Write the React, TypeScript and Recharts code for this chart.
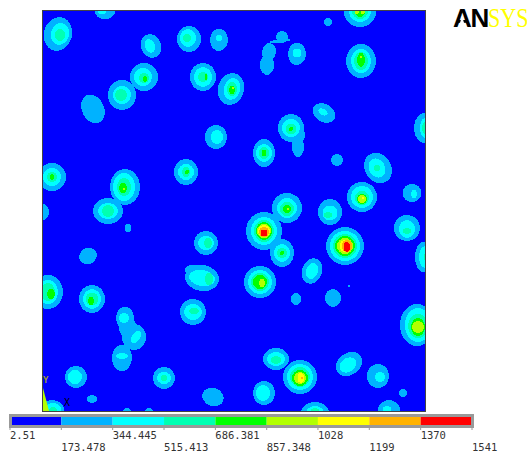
import React from 'react';
import { Bar, BarChart, Cell, ReferenceArea, Scatter, ScatterChart, XAxis, YAxis } from 'recharts';

// contour bands, lowest first. Each spot: [x, y, half width, half height, tilt] in plot units
type Spot = [number, number, number, number, number?];

const plotWidth = 382;
const plotHeight = 400;

const band1: Spot[] = [
  [15, 23, 14, 17, 15], [62, 1, 10, 7], [108, 35, 10, 12, -20], [146, 28, 12, 13], [176, 29, 9, 11],
  [101, 66, 14, 14], [79, 84, 14, 15], [160, 66, 13, 14], [188, 78, 13, 16, 15], [50, 98, 11, 15, -25],
  [173, 126, 11, 12], [143, 161, 12, 13], [9, 166, 14, 14], [82, 176, 15, 18], [65, 200, 15, 13], [0, 201, 6, 8],
  [317, 1, 16, 15], [285, 11, 4, 4], [254, 43, 9, 11], [226, 41, 7, 9, 8], [224, 54, 7, 10], [239, 26, 6, 6], [237, 30, 11, 1.5, -6],
  [318, 50, 15, 17], [281, 102, 12, 9, 30], [248, 117, 13, 14], [254, 124, 8, 10], [255, 136, 6, 10],
  [221, 142, 11, 14], [294, 149, 6, 6], [335, 157, 13, 16, -30], [382, 117, 11, 15], [369, 182, 9.5, 9],
  [319, 186, 15, 15], [244, 197, 15, 15], [287, 201, 12, 13], [221, 220, 18, 19], [239, 242, 12, 14],
  [302, 235, 19, 19], [269, 260, 10, 13, 20], [217, 271, 16, 16], [253, 288, 5, 6], [290, 287, 8, 9],
  [306, 275, 1, 1], [364, 217, 13, 13], [380, 246, 8, 15], [374, 314, 17, 21], [233, 348, 13, 11],
  [257, 366, 17, 17], [306, 353, 14, 11, -35], [335, 365, 11, 12], [221, 382, 11, 12], [360, 382, 4, 4],
  [272, 402, 14, 11], [346, 399, 11, 10], [85, 217, 3.5, 4], [45, 245, 9, 8, -30], [163, 232, 12, 12],
  [159, 267, 17, 13, 10], [149, 259, 7, 5], [150, 301, 13, 13], [5, 281, 15, 17], [49, 288, 13, 14],
  [82, 307, 9, 11], [91, 326, 12, 13], [85, 317, 9, 10], [79, 347, 10, 13], [33, 366, 11, 11],
  [121, 367, 11, 11], [49, 388, 5, 4], [170, 386, 11, 9, 20], [9, 399, 12, 10], [84, 401, 4, 4], [106, 401, 4, 4],
];
const band2: Spot[] = [
  [17, 23, 9, 11, 15], [59, 1, 4, 2], [107, 35, 5, 7, -20], [145, 27, 8, 9], [176, 27, 3, 3], [100, 66, 9, 9],
  [79, 84, 9, 9], [160, 66, 9, 10], [189, 78, 8, 11, 15], [174, 126, 6, 7], [143, 161, 8, 8], [9, 166, 9, 9],
  [81, 176, 11, 14], [65, 200, 10, 8], [317, 0, 11, 11], [254, 42, 4.5, 4.5], [318, 50, 10, 12], [280, 101, 5, 3, 30],
  [248, 117, 9, 9], [221, 142, 8, 9], [334, 157, 8, 10, -30], [382, 117, 5, 10], [371, 183, 3, 4],
  [319, 186, 11, 11], [244, 197, 10, 10], [287, 202, 7.5, 7.5], [221, 220, 13, 14], [239, 242, 8, 9],
  [302, 235, 15, 15], [269, 260, 6, 8, 20], [217, 271, 12, 12], [364, 218, 8, 9], [382, 246, 6, 11],
  [375, 314, 13, 17], [233, 348, 9, 7], [257, 366, 13, 13], [305, 354, 9, 7, -35], [337, 366, 5, 5],
  [220, 382, 7, 8], [272, 402, 9, 7], [344, 398, 4, 3], [163, 232, 8, 7], [159, 267, 13, 8, 10],
  [150, 301, 9, 8], [5, 281, 10, 12], [49, 288, 9, 10], [81, 307, 5, 5], [93, 326, 4, 7, 30], [79, 345, 6, 3],
  [32, 366, 7, 7], [121, 367, 7, 6], [10, 398, 8, 6],
];
const band3: Spot[] = [
  [17, 24, 5, 6], [144, 27, 4, 4], [101, 67, 5, 5], [78, 84, 6, 6], [160, 66, 5, 5], [189, 78, 5, 7], [143, 161, 4, 5],
  [9, 166, 5, 5], [81, 176, 7, 9], [65, 200, 6, 6], [317, 0, 8, 8], [318, 50, 7, 9], [248, 118, 5.5, 5.5],
  [221, 142, 5, 6], [334, 157, 3, 3], [382, 117, 3, 6], [319, 187, 7, 7], [244, 198, 7, 7], [285, 204, 4, 3],
  [221, 220, 10, 11], [239, 242, 5, 5], [302, 235, 12, 12], [217, 271, 9, 9], [364, 220, 4, 3], [384, 246, 3, 6],
  [375, 315, 10, 12], [233, 349, 5, 4], [257, 366, 10, 10], [272, 402, 5, 5], [165, 232, 4, 5], [166, 268, 4, 6],
  [151, 300, 5, 3], [5, 281, 7, 9], [49, 288, 6.5, 6.5], [121, 367, 3, 3], [10, 400, 4, 4],
];
const band4: Spot[] = [
  [102, 68, 2, 3], [163, 66, 1.5, 3], [189, 79, 3, 4], [144, 161, 2, 2], [9, 166, 2, 3], [80, 177, 4, 5], [317, 0, 5, 6],
  [318, 49, 4, 7], [248, 118, 2, 2], [221, 142, 2.5, 3], [319, 188, 5, 5], [244, 198, 4, 4], [221, 220, 8, 9],
  [239, 242, 2, 2], [302, 235, 10, 10], [217, 271, 7, 7], [375, 316, 7, 9], [257, 367, 8, 8], [272, 404, 3, 3],
  [8, 283, 4, 5], [48, 290, 3, 4], [10, 403, 3, 2],
];
const band5: Spot[] = [
  [190, 77, 1.5, 1.5], [81, 178, 1, 1], [314, 1, 2, 2], [320, 1, 2, 2], [318, 46, 1.5, 1.5], [319, 188, 4, 4],
  [245, 198, 1, 1], [221, 220, 7, 7], [302, 235, 8, 8], [219, 272, 3, 4], [375, 316, 6, 6], [257, 367, 6, 6], [272, 406, 1, 1],
];
const band6: Spot[] = [[320, 187, 1, 1], [221, 220, 6, 6], [303, 235, 6.5, 6.5], [258, 367, 3.5, 5]];
const band7: Spot[] = [[221, 221, 5, 5], [304, 235, 5.5, 6], [259, 367, 1, 1]];
const band8: Spot[] = [[221, 222, 3.5, 3.5], [304, 236, 3.5, 5]];

const bands = [band1, band2, band3, band4, band5, band6, band7, band8];
const bandColors = ['#00b2ff', '#00ffff', '#00ffb2', '#00ff00', '#b2ff00', '#ffff00', '#ffb200', '#ff0000'];
const baseColor = '#0000ff';

// legend
const contourLevels = [2.51, 173.478, 344.445, 515.413, 686.381, 857.348, 1028, 1199, 1370, 1541];
const contourLabels = ['2.51', '173.478', '344.445', '515.413', '686.381', '857.348', '1028', '1199', '1370', '1541'];
const legendColors = [baseColor, ...bandColors];
const legendRow: Record<string, number | string> = { name: 'range' };
legendColors.forEach((_, i) => {
  legendRow[`k${i}`] = contourLevels[i + 1] - (i === 0 ? 0 : contourLevels[i]);
});

const SpotShape = (props: any) => {
  const { cx, cy, payload, fill } = props;
  return (
    <ellipse
      cx={cx}
      cy={cy}
      rx={payload.rx}
      ry={payload.ry}
      fill={fill}
      shapeRendering="crispEdges"
      transform={payload.tilt ? `rotate(${payload.tilt} ${cx} ${cy})` : undefined}
    />
  );
};

const LevelTick = (props: any) => {
  const { x, y, index } = props;
  return (
    <text x={x} y={index % 2 === 0 ? y + 7 : y + 19} fontFamily="'DejaVu Sans Mono'" fontSize={10.5} fill="#333">
      {contourLabels[index]}
    </text>
  );
};

const App = () => (
  <div style={{ position: 'absolute', left: 0, top: 0, width: 527, height: 455, background: '#fff', overflow: 'hidden' }}>
    <ScatterChart width={527} height={455} margin={{ top: 11, right: 102, bottom: 44, left: 43 }}>
      <XAxis type="number" dataKey="x" domain={[0, plotWidth]} hide allowDataOverflow />
      <YAxis type="number" dataKey="y" domain={[0, plotHeight]} reversed hide allowDataOverflow />
      <ReferenceArea x1={0} x2={plotWidth} y1={0} y2={plotHeight} fill={baseColor} fillOpacity={1} />
      {bands.map((band, i) => (
        <Scatter
          key={i}
          data={band.map(([x, y, rx, ry, tilt]) => ({ x, y, rx, ry, tilt }))}
          fill={bandColors[i]}
          shape={SpotShape}
          isAnimationActive={false}
        />
      ))}
    </ScatterChart>
    <div style={{ position: 'absolute', left: 42, top: 10, width: 382, height: 400, border: '1px solid #444' }} />

    {/* triad */}
    <div style={{ position: 'absolute', left: 43, top: 388, width: 6, height: 23, background: '#b2ff00', clipPath: 'polygon(0 0, 100% 100%, 0 100%)' }} />
    <div style={{ position: 'absolute', left: 43, top: 375, fontFamily: "'DejaVu Sans Mono'", fontWeight: 700, fontSize: 9, color: '#999933' }}>Y</div>
    <div style={{ position: 'absolute', left: 64, top: 397, fontFamily: "'DejaVu Sans Mono'", fontSize: 10, color: '#000' }}>X</div>

    {/* logo */}
    <div style={{ position: 'absolute', left: 453, top: 4, whiteSpace: 'nowrap', lineHeight: '28px', width: 74 }}>
      <span style={{ fontFamily: "'Liberation Sans'", fontWeight: 700, fontSize: 26, letterSpacing: -1.4, color: '#000' }}>AN</span>
      <span style={{ display: 'inline-block', fontFamily: "'Liberation Serif'", fontSize: 27, color: '#ffff00', transform: 'scaleX(0.82)', transformOrigin: 'left' }}>SYS</span>
    </div>
    {/* the logo's A has no crossbar */}
    <div style={{ position: 'absolute', left: 458.5, top: 16, width: 7, height: 12, background: '#fff', clipPath: 'polygon(50% 0, 100% 100%, 0 100%)' }} />

    {/* contour legend */}
    <div style={{ position: 'absolute', left: 0, top: 410 }}>
      <BarChart
        width={527}
        height={45}
        layout="vertical"
        data={[legendRow]}
        barCategoryGap={0}
        margin={{ top: 7, right: 55, bottom: 0, left: 10 }}
      >
        <XAxis
          type="number"
          domain={[contourLevels[0], contourLevels[9]]}
          ticks={contourLevels}
          interval={0}
          allowDataOverflow
          height={30}
          axisLine={false}
          tickSize={5}
          tickLine={{ stroke: '#999' }}
          tick={LevelTick}
        />
        <YAxis type="category" dataKey="name" hide />
        {legendColors.map((color, i) => (
          <Bar key={i} dataKey={`k${i}`} stackId="scale" fill={color} isAnimationActive={false}>
            <Cell fill={color} />
          </Bar>
        ))}
      </BarChart>
    </div>
    <div style={{ position: 'absolute', left: 9, top: 414, width: 459, height: 8, border: '3px solid #999' }} />
  </div>
);

export default App;
